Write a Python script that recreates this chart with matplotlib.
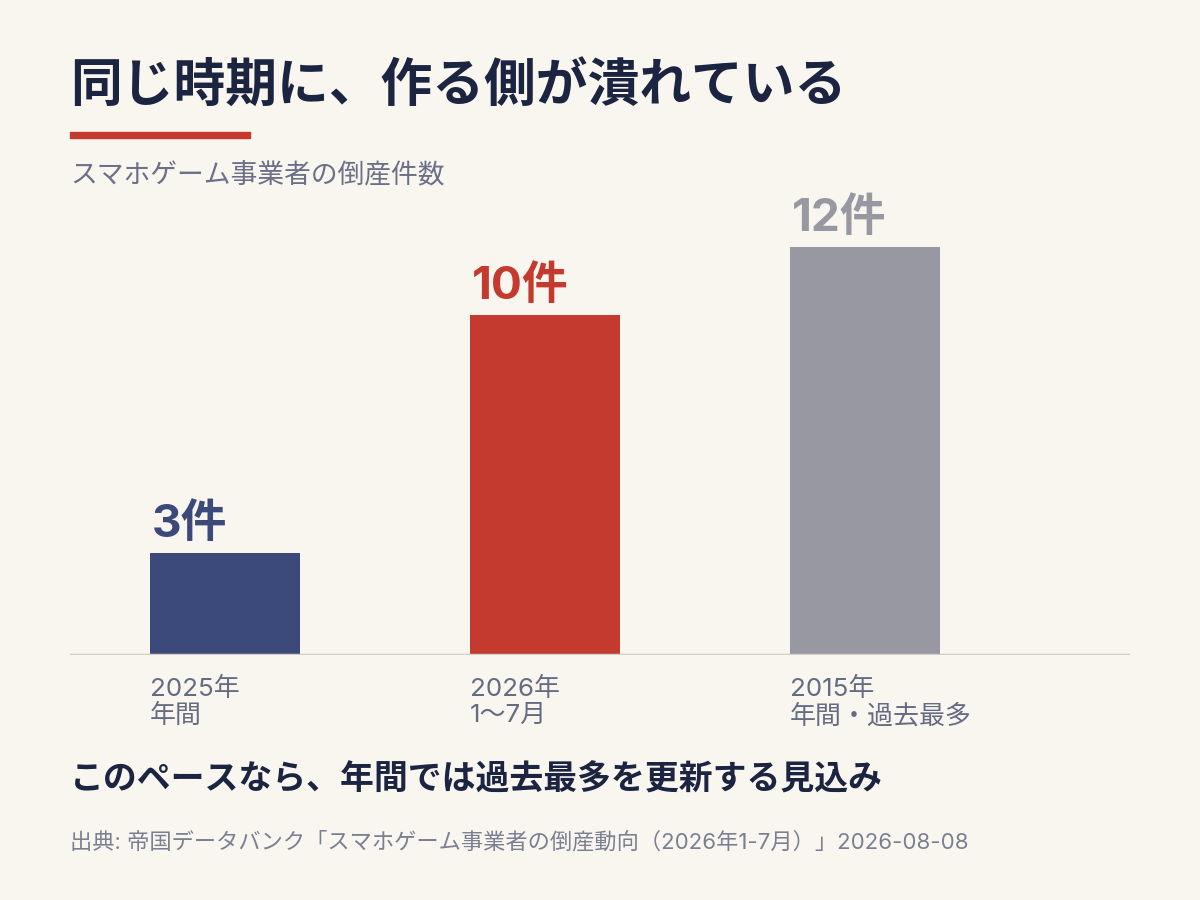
import matplotlib.pyplot as plt
from matplotlib.patches import Rectangle

plt.rcParams['font.family'] = ['Inter', 'Noto Sans CJK JP', 'DejaVu Sans']

# data
categories = ['2025年\n年間', '2026年\n1〜7月', '2015年\n年間・過去最多']
counts = [3, 10, 12]
value_labels = ['3件', '10件', '12件']
bar_colors = ['#3b4a7a', '#c43a2e', '#9798a1']

title = '同じ時期に、作る側が潰れている'
subtitle = 'スマホゲーム事業者の倒産件数'
note = 'このペースなら、年間では過去最多を更新する見込み'
source = '出典: 帝国データバンク「スマホゲーム事業者の倒産動向（2026年1-7月）」2026-08-08'

bg = '#f9f6f0'
W, H = 1200, 900
fig = plt.figure(figsize=(12, 9), dpi=100, facecolor=bg)

# axes placed in pixels: x 70..1130, y 247..655
ax = fig.add_axes([70 / W, (H - 655) / H, 1060 / W, 408 / H])
ax.set_facecolor(bg)

x = list(range(len(counts)))
bw = 150 / 320
ax.bar(x, counts, width=bw, color=bar_colors, align='center', zorder=2)
ax.set_xlim(-155 / 320, (1130 - 225) / 320)
ax.set_ylim(0, 12)

for s in ax.spines.values():
    s.set_visible(False)
ax.axhline(0, color='#d3cec5', lw=2.5, zorder=3)
ax.set_xticks([])
ax.set_yticks([])

for i, (v, lab, c) in enumerate(zip(counts, value_labels, bar_colors)):
    ax.annotate(lab, xy=(i - bw / 2, v), xytext=(1.5, 5), textcoords='offset points',
                ha='left', va='bottom', fontsize=33, fontweight='bold', color=c,
                annotation_clip=False)
    ax.annotate(categories[i], xy=(i - bw / 2, 0), xytext=(0, -16), textcoords='offset points',
                ha='left', va='top', fontsize=18.7, color='#646b82', linespacing=1.15,
                annotation_clip=False)

# header
fig.text(70 / W, 1 - 88 / H, title, fontsize=37.3, fontweight='bold', color='#1b2440',
         ha='left', va='center')
fig.patches.append(Rectangle((70 / W, 1 - 138 / H), 180 / W, 6 / H,
                             transform=fig.transFigure, color='#c43a2e'))
fig.text(70 / W, 1 - 175 / H, subtitle, fontsize=19.3, color='#6b7088', ha='left', va='center')

# footer
fig.text(70 / W, 1 - 780 / H, note, fontsize=24.4, fontweight='bold', color='#1b2440',
         ha='left', va='center')
fig.text(70 / W, 1 - 842 / H, source, fontsize=16, color='#7a7f92', ha='left', va='center')

fig.savefig('out.png', dpi=100, facecolor=bg)
